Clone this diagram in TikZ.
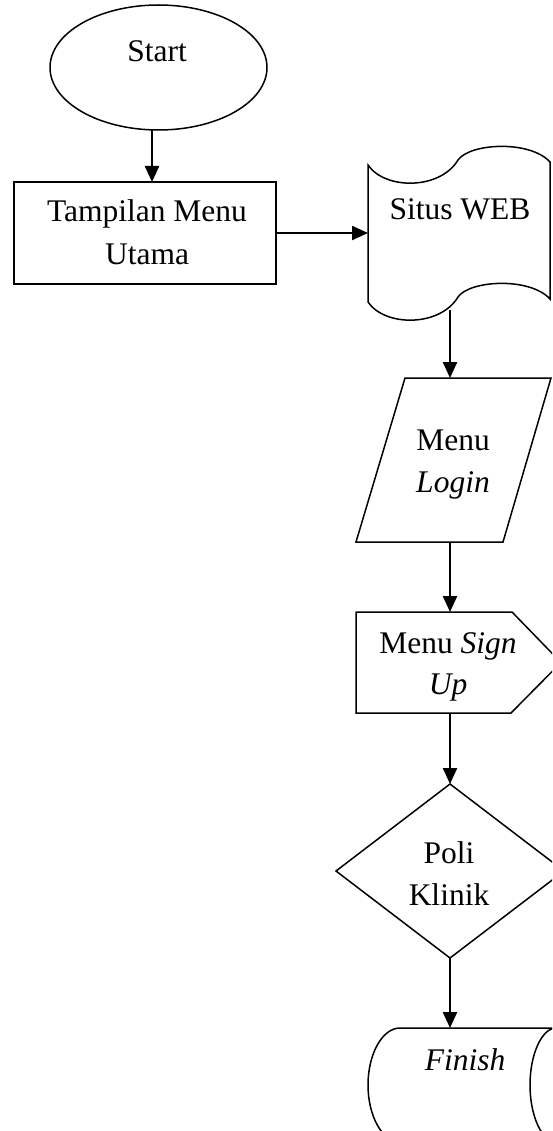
\documentclass[tikz,border=0pt]{standalone}
\usepackage{fontspec}
\setmainfont{Liberation Serif}
\usetikzlibrary{arrows.meta,shapes.geometric}
\begin{document}
\begin{tikzpicture}[x=1pt,y=-1pt,
  shapeline/.style={draw=black, line width=1.5pt, line join=miter},
  box/.style={inner sep=0pt, outer sep=0pt},
  txt/.style={font=\fontsize{31.5}{43}\selectfont, inner sep=0pt, anchor=base},
  arr/.style={line width=2.4pt, -{Triangle[length=16pt,width=14pt]}}]
\clip (0,0) rectangle (552,1131);
% Start
\node[shapeline, ellipse, box, minimum width=217pt, minimum height=125pt] (start) at (158.5,67.5) {};
\node[txt] (startT) at (157,62) {Start};
% Tampilan Menu Utama
\node[shapeline, rectangle, box, minimum width=262pt, minimum height=102pt] (menu) at (145,233) {};
\node[txt] (menuT1) at (147,222) {Tampilan Menu};
\node[txt] (menuT2) at (147,265) {Utama};
% Situs WEB
\node[box, minimum width=182pt, minimum height=137pt] (web) at (459,233.5) {};
\draw[shapeline] (368,165) .. controls (385,190) and (440,190) .. (458,160)
   .. controls (470,143) and (530,140) .. (550,162) -- (550,299)
   .. controls (530,277) and (470,280) .. (458,297)
   .. controls (440,327) and (385,327) .. (368,302) -- cycle;
\node[txt] (webT) at (460,220) {Situs WEB};
% Menu Login
\node[box, minimum width=195pt, minimum height=164pt] (login) at (453.5,460) {};
\draw[shapeline] (405,378) -- (551,378) -- (503,542) -- (356,542) -- cycle;
\node[txt] (loginT1) at (453,450) {Menu};
\node[txt] (loginT2) at (453,492) {\textit{Login}};
% Menu Sign Up
\node[box, minimum width=205pt, minimum height=101pt] (signup) at (458.5,662.5) {};
\draw[shapeline] (356,612) -- (512,612) -- (561,662.5) -- (511,713) -- (356,713) -- cycle;
\node[txt] (signupT1) at (448,653) {Menu \textit{Sign}};
\node[txt] (signupT2) at (448,694) {\textit{Up}};
% Poli Klinik
\node[box, minimum width=228pt, minimum height=174pt] (poli) at (450,871) {};
\draw[shapeline] (450,784) -- (564,871) -- (450,958) -- (336,871) -- cycle;
\node[txt] (poliT1) at (449,863) {Poli};
\node[txt] (poliT2) at (449,905) {Klinik};
% Finish
\node[box, minimum width=187pt, minimum height=114pt] (finish) at (461.5,1085) {};
\draw[shapeline] (620,1028) -- (400,1028)
   .. controls (382.3,1028) and (368,1054) .. (368,1085)
   .. controls (368,1116) and (382.3,1142) .. (400,1142) -- (620,1142);
\draw[shapeline] (556,1028) .. controls (542,1028) and (530,1054) .. (530,1085)
   .. controls (530,1116) and (542,1142) .. (556,1142);
\node[txt] (finishT) at (465,1070) {\textit{Finish}};
% connectors
\coordinate (c1) at (152,0);
\coordinate (cx) at (450,0);
\coordinate (webout) at (450,310);
\draw[arr] (start.south -| c1) -- (menu.north -| c1);
\draw[arr] (menu.east) -- (menu.east -| web.west);
\draw[arr] (webout) -- (login.north -| cx);
\draw[arr] (login.south -| cx) -- (signup.north -| cx);
\draw[arr] (signup.south -| cx) -- (poli.north -| cx);
\draw[arr] (poli.south -| cx) -- (finish.north -| cx);
\end{tikzpicture}
\end{document}
